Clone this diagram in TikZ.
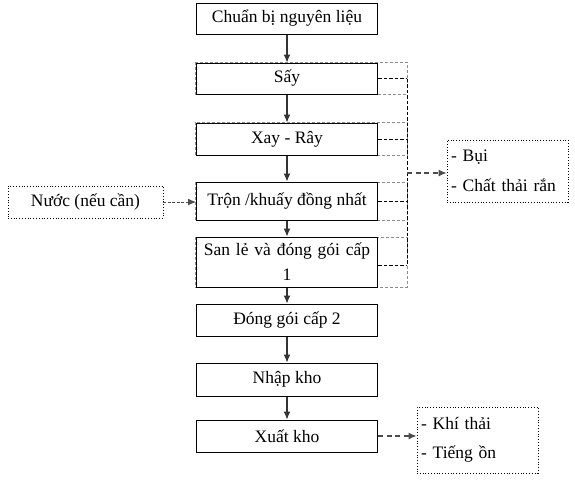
\documentclass[tikz,border=0pt]{standalone}
\usepackage{fontspec}
\setmainfont{Liberation Serif}
\usetikzlibrary{arrows.meta}
\begin{document}
\begin{tikzpicture}[x=1pt,y=-1pt,
  box/.style={draw=black,line width=1pt,fill=white,minimum width=181pt,inner sep=0pt,align=center,font=\fontsize{17.5}{25}\selectfont},
  note/.style={draw=black,dotted,line width=0.8pt,inner sep=0pt,align=left,font=\fontsize{17.5}{29.5}\selectfont},
  flow/.style={draw=black!80,line width=1.1pt,-{Latex[length=8pt,width=7pt]}},
  grp/.style={draw=black!45,line width=0.6pt,dash pattern=on 3pt off 2pt},
  leak/.style={draw=black,line width=0.8pt,dash pattern=on 3.5pt off 2pt},
  emit/.style={draw=black!70,line width=1.3pt,dash pattern=on 5pt off 3.5pt,-{Latex[length=8pt,width=7pt]}}
]
\useasboundingbox (0,0) rectangle (575,480);
% grey dashed enclosures
\draw[grp] (195,62) rectangle (407,94);
\draw[grp] (195,122) rectangle (407,155);
\draw[grp] (195,182) rectangle (407,220);
\draw[grp] (195,237) rectangle (407,287);
% boxes
\node[box,minimum height=31pt] (a) at (287,18.5) {Chuẩn bị nguyên liệu};
\node[box,minimum height=31pt] (b) at (287,78.5) {Sấy};
\node[box,minimum height=32pt] (c) at (287,139) {Xay - Rây};
\node[box,minimum height=38pt] (d) at (287,201) {Trộn /khuấy đồng nhất};
\node[box,minimum height=50pt,text width=181pt] (e) at (287,262) {San lẻ và đóng gói cấp\\1};
\node[box,minimum height=32pt] (f) at (287,320) {Đóng gói cấp 2};
\node[box,minimum height=33pt] (g) at (287,379.5) {Nhập kho};
\node[box,minimum height=32pt] (h) at (287,436) {Xuất kho};
\node[note,minimum width=155pt,minimum height=32pt,align=center] (w) at (85.5,202) {Nước (nếu cần)};
\node[note,minimum width=121pt,minimum height=62pt,text width=113pt] (r) at (507.5,171) {- Bụi\\- Chất thải rắn};
\node[note,minimum width=121pt,minimum height=66pt,text width=113pt] (k) at (477.5,440) {- Khí thải\\- Tiếng ồn};
% flow arrows
\draw[flow] (a) -- (b);
\draw[flow] (b) -- (c);
\draw[flow] (c) -- (d);
\draw[flow] (d) -- (e);
\draw[flow] (e) -- (f);
\draw[flow] (f) -- (g);
\draw[flow] (g) -- (h);
% leaks
\coordinate (j1) at (407,78.5);
\coordinate (j2) at (407,139);
\coordinate (j3) at (407,201);
\coordinate (j4) at (407,265);
\coordinate (jm) at (407,173);
\draw[leak] (b.east) -- (j1);
\draw[leak] (c.east) -- (j2);
\draw[leak] (d.east) -- (j3);
\draw[leak] (e.east |- j4) -- (j4);
\draw[leak] (j1) -- (j4);
\draw[emit] (jm) -- (jm -| r.west);
\draw[emit] (h.east) -- (k.west |- h.east);
\draw[emit,line width=1pt,dash pattern=on 3pt off 1.5pt] (w.east) -- (d.west |- w.east);
\end{tikzpicture}
\end{document}
